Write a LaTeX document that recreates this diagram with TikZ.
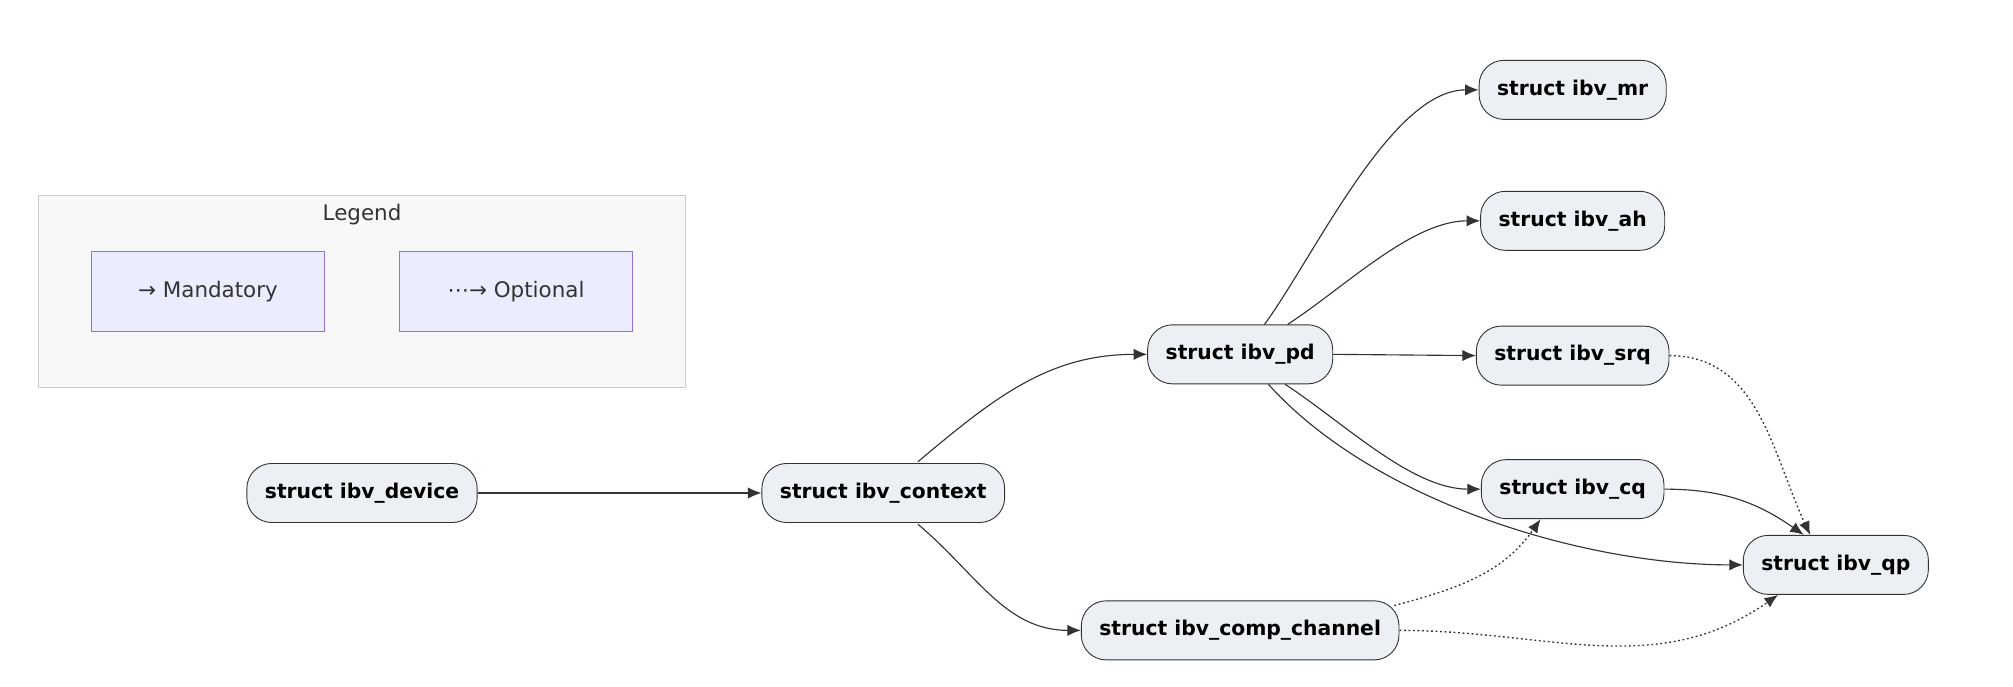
\documentclass[tikz,border=0pt]{standalone}
\usepackage{fontspec}
\setmainfont{DejaVu Sans}
\usetikzlibrary{arrows.meta,positioning}
\definecolor{nodefill}{HTML}{ECEFF4}
\definecolor{legfill}{HTML}{ECECFF}
\definecolor{legline}{HTML}{9370DB}
\definecolor{bgfill}{HTML}{F8F8F8}
\definecolor{bgline}{HTML}{CCCCCC}
\definecolor{ink}{HTML}{333333}

\begin{document}
\begin{tikzpicture}[
    x=0.02cm, y=-0.02cm,
    struct/.style={rectangle, draw=ink, fill=nodefill, rounded corners=11pt, minimum height=0.92cm, inner xsep=8pt, font=\bfseries\fontsize{9}{11}\selectfont, text=black},
    legbox/.style={rectangle, draw=legline, fill=legfill, minimum width=3.64cm, minimum height=1.24cm, font=\fontsize{9.5}{11}\selectfont, text=ink},
    arrow/.style={ink, line width=0.5pt, -{Latex[length=6pt,width=5pt]}},
    optional/.style={arrow, line width=0.6pt, dash pattern=on 0.8pt off 1.2pt}
  ]
    \useasboundingbox (0,0) rectangle (1568,535);
    % Legend
    \node[draw=bgline, fill=bgfill, minimum width=10.08cm, minimum height=3cm] (legend) at (282,227) {};
    \node[font=\fontsize{9.5}{11}\selectfont, text=ink] (legtitle) at (282,167) {Legend};
    \node[legbox] (mand) at (162,227) {→ Mandatory};
    \node[legbox] (opt) at (402,227) {⋯→ Optional};

    % Nodes
    \node[struct] (device) at (282,384) {struct ibv\_device};
    \node[struct] (context) at (688,384) {struct ibv\_context};
    \node[struct] (pd) at (966,276) {struct ibv\_pd};
    \node[struct] (mr) at (1225,70) {struct ibv\_mr};
    \node[struct] (ah) at (1225,172) {struct ibv\_ah};
    \node[struct] (srq) at (1225,277) {struct ibv\_srq};
    \node[struct] (cq) at (1225,381) {struct ibv\_cq};
    \node[struct] (qp) at (1430,440) {struct ibv\_qp};
    \node[struct] (comp) at (966,491) {struct ibv\_comp\_channel};

    % Arrows
    \draw[arrow] (device) -- (context);
    \draw[arrow] (context.north) ++(27,-1) coordinate (c1) to[out=40, in=180] (pd.west);
    \draw[arrow] (context.south) ++(27,1) coordinate (c2) to[out=-40, in=180] (comp.west);
    \draw[arrow] (pd.north) ++(19,0) coordinate (p1) to[out=54, in=180, looseness=0.7] (mr.west);
    \draw[arrow] (pd.north) ++(37,0) coordinate (p2) to[out=33, in=180, looseness=0.8] (ah.west);
    \draw[arrow] (pd.east) -- (srq.west);
    \draw[arrow] (pd.south) ++(35,0) coordinate (p3) to[out=-33, in=180, looseness=0.8] (cq.west);
    \draw[arrow] (pd.south) ++(22,0) coordinate (p4) to[out=-48, in=180, looseness=0.8] (qp.west);
    \draw[arrow] (cq.east) to[out=0, in=145] ([xshift=-0.5cm]qp.north);
    \draw[optional] (srq.east) to[out=0, in=115] ([xshift=-0.4cm]qp.north);
    \draw[optional] (comp.north east) ++(-4,4) coordinate (c3) to[out=15, in=-125] ([xshift=-0.5cm]cq.south);
    \draw[optional] (comp.east) to[out=0, in=-145] ([xshift=-0.9cm]qp.south);
\end{tikzpicture}
\end{document}
